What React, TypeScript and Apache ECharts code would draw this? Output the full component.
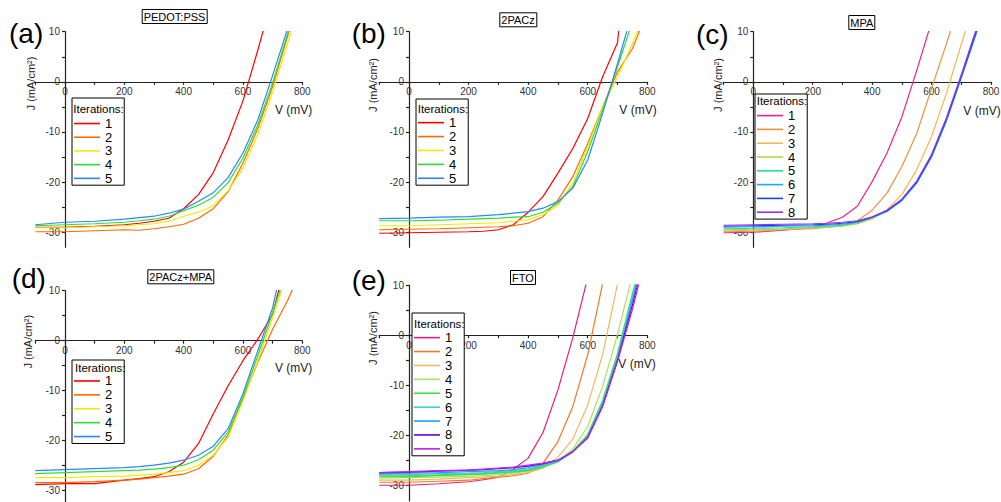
import React, { useEffect, useRef } from "react";
import * as echarts from "echarts";

// ---------- data ----------
const V = [-100, 0, 100, 200, 250, 300, 350, 400, 450, 500, 550, 600, 650, 700, 750, 800];

const xLabelValues = [0, 200, 400, 600, 800];
const xTickValues = [-100, 0, 100, 200, 300, 400, 500, 600, 700, 800];
const yLabelValues = [-30, -20, -10, 0, 10];
const yTickValues = [-30, -25, -20, -15, -10, -5, 0, 5, 10];
const X_MIN = -100;
const X_MAX = 800;
const Y_MIN = -33;
const Y_MAX = 10;

const panelTitles = ["PEDOT:PSS", "2PACz", "MPA", "2PACz+MPA", "FTO"];
const panelLetters = ["(a)", "(b)", "(c)", "(d)", "(e)"];

const jPEDOT = [
  [-29.0, -29.0, -28.8, -28.5, -28.2, -27.8, -27.2, -25.3, -22.5, -18.1, -11.6, -3.8, 6.3, 17],
  [-29.9, -29.9, -29.7, -29.5, -29.6, -29.3, -28.9, -28.4, -27.2, -25.3, -21.9, -16.2, -9.3, -0.9, 9.0, 19],
  [-29.1, -29.1, -28.9, -28.7, -28.5, -28.3, -27.8, -26.8, -26.0, -24.7, -21.7, -17.2, -10.5, -2.0, 7.6, 17],
  [-28.7, -28.5, -28.3, -28.0, -27.7, -27.4, -26.8, -25.7, -24.6, -23.0, -20.1, -15.2, -8.6, -0.2, 9.5, 19],
  [-28.5, -28.0, -27.8, -27.4, -27.1, -26.8, -26.2, -25.4, -23.8, -22.1, -19.1, -14.2, -7.6, 1.3, 10.5],
];
const j2PACz = [
  [-30.2, -30.1, -30.0, -29.9, -29.8, -29.5, -28.5, -26.0, -22.9, -18.2, -13.3, -7.3, 1.0, 7.8, 40],
  [-29.5, -29.4, -29.3, -29.1, -29.0, -28.9, -28.7, -28.2, -26.9, -23.6, -18.9, -12.3, -5.0, 2.0, 6.6, 14],
  [-28.7, -28.7, -28.5, -28.3, -28.2, -28.1, -27.8, -27.5, -26.5, -24.6, -20.2, -12.9, -5.0, 1.0, 7.6, 15],
  [-27.7, -27.7, -27.6, -27.4, -27.3, -27.2, -27.0, -26.9, -26.0, -24.2, -20.9, -13.9, -5.6, 3.0, 12],
  [-27.3, -27.2, -27.0, -26.9, -26.7, -26.5, -26.2, -25.9, -25.2, -23.9, -21.2, -15.6, -6.3, 3.6, 14],
];
const jMPA = [
  [-30.1, -30.0, -29.6, -29.1, -28.1, -27.0, -24.8, -19.9, -14.2, -7.0, 2.3, 12],
  [-29.9, -29.8, -29.5, -29.3, -29.0, -28.7, -27.7, -25.6, -22.2, -16.9, -10.3, -1.3, 7.6, 17],
  [-29.7, -29.6, -29.4, -29.1, -28.9, -28.7, -28.3, -27.4, -25.5, -22.5, -17.5, -10.9, -2.3, 7.5, 17],
  [-29.5, -29.4, -29.3, -29.1, -29.0, -28.8, -28.3, -27.2, -25.9, -23.6, -20.0, -14.7, -7.4, 1.2, 10.2, 19],
  [-29.3, -29.2, -29.1, -28.9, -28.8, -28.6, -28.1, -27.1, -25.8, -23.5, -19.9, -14.6, -7.3, 1.3, 10.3, 19],
  [-29.0, -28.9, -28.8, -28.7, -28.6, -28.4, -28.0, -27.0, -25.8, -23.7, -20.2, -15.0, -7.8, 0.8, 9.6, 19],
  [-28.8, -28.7, -28.6, -28.5, -28.4, -28.2, -27.9, -27.0, -25.7, -23.5, -20.0, -14.8, -7.5, 1.0, 9.9, 19],
  [-28.6, -28.5, -28.4, -28.3, -28.2, -28.0, -27.7, -26.9, -25.6, -23.4, -19.8, -14.5, -7.2, 1.4, 10.4, 19],
];
const j2PACzMPA = [
  [-28.8, -28.6, -28.6, -27.9, -27.6, -27.2, -26.2, -24.3, -20.6, -14.6, -9.0, -4.0, 0.3, 5.3, 17],
  [-28.4, -28.4, -28.2, -27.9, -27.7, -27.4, -27.1, -26.7, -25.6, -23.1, -18.9, -11.6, -4.3, 2.3, 8.0, 14.5],
  [-27.4, -27.4, -27.2, -27.1, -26.9, -26.7, -26.4, -26.0, -24.9, -22.9, -19.3, -12.0, -4.0, 4.7, 13.5],
  [-26.6, -26.4, -26.2, -26.0, -25.9, -25.7, -25.4, -24.9, -23.8, -21.9, -18.3, -11.3, -3.0, 5.6, 14.5],
  [-26.0, -25.8, -25.6, -25.4, -25.2, -24.9, -24.5, -23.9, -22.9, -21.1, -17.6, -10.6, -2.0, 6.6, 20],
];
const jFTO = [
  [-29.9, -29.9, -29.6, -29.2, -28.8, -28.3, -26.7, -24.5, -19.4, -10.9, -0.5, 11.5],
  [-29.3, -29.3, -29.1, -28.9, -28.6, -28.3, -28.0, -27.5, -25.5, -21.2, -14.2, -3.9, 10.3],
  [-28.9, -28.9, -28.7, -28.4, -28.3, -28.1, -27.8, -27.4, -26.5, -24.3, -20.7, -13.9, -3.9, 10.2],
  [-28.5, -28.4, -28.3, -28.1, -28.0, -27.8, -27.5, -27.1, -26.3, -25.1, -22.7, -18.2, -10.2, 0.1, 12],
  [-28.1, -28.1, -27.9, -27.7, -27.6, -27.4, -27.2, -26.9, -26.2, -25.2, -23.2, -19.9, -13.2, -3.9, 8.0, 19],
  [-27.8, -27.8, -27.6, -27.5, -27.4, -27.2, -27.0, -26.7, -26.0, -25.1, -23.2, -20.1, -13.6, -4.4, 7.6, 19],
  [-27.6, -27.5, -27.4, -27.2, -27.1, -27.0, -26.8, -26.4, -25.8, -25.0, -23.2, -20.3, -13.9, -4.8, 7.0, 18.5],
  [-27.4, -27.3, -27.1, -26.9, -26.8, -26.6, -26.4, -26.1, -25.6, -24.9, -23.2, -20.4, -14.1, -5.0, 6.0, 18],
  [-27.4, -27.2, -27.0, -26.9, -26.7, -26.5, -26.3, -25.9, -25.5, -24.9, -23.2, -20.5, -14.2, -5.2, 5.1, 17],
];

const colors5 = ["#ff0000", "#ff6a00", "#f2ea00", "#2ee02e", "#2a86ff"];
const colorsMPA = ["#f0208c", "#f09040", "#f3b850", "#a8e040", "#20e0a0", "#10b0f0", "#2040ff", "#9b30e8"];
const colorsFTO = ["#e81e7a", "#f07828", "#f0b860", "#a8e060", "#40e040", "#40d0d0", "#20a0ff", "#6000e0", "#c020f0"];

// ---------- layout ----------
const FONT = "'Liberation Sans', Arial, sans-serif";
const panels = [
  { key: "a", data: jPEDOT, colors: colors5, grid: { left: 35.3, top: 31.7, width: 267, height: 215.6 },
    legend: { left: 72, top: 98, padTop: 18.7, sp: 13.7 }, iter: [73.3, 109.3],
    title: [141.7, 9], letter: [9, 33], jLab: [31, 83.5], vLab: [275, 110] },
  { key: "b", data: j2PACz, colors: colors5, grid: { left: 379.2, top: 31.7, width: 268.1, height: 215.6 },
    legend: { left: 416, top: 99, padTop: 16.7, sp: 13.9 }, iter: [417.7, 109.3],
    title: [499.3, 12.3], letter: [351.7, 33], jLab: [373.3, 85], vLab: [619.3, 110] },
  { key: "c", data: jMPA, colors: colorsMPA, grid: { left: 723.6, top: 31.7, width: 267.4, height: 215.6 },
    legend: { left: 755, top: 94, padTop: 14.7, sp: 13.8 }, iter: [756.7, 100.7],
    title: [848.3, 15], letter: [696, 34], jLab: [718.3, 85], vLab: [963.3, 111] },
  { key: "d", data: j2PACzMPA, colors: colors5, grid: { left: 35.3, top: 290.7, width: 267, height: 215 },
    legend: { left: 72, top: 360, padTop: 14, sp: 13.9 }, iter: [75, 368.3],
    title: [147.3, 269.3], letter: [11.7, 278], jLab: [28, 341.7], vLab: [275, 368.3] },
  { key: "e", data: jFTO, colors: colorsFTO, grid: { left: 379.2, top: 285, width: 268.1, height: 215.8 },
    legend: { left: 412, top: 313, padTop: 17.7, sp: 13.9 }, iter: [414, 324],
    title: [510, 270], letter: [351.7, 280], jLab: [372.7, 338], vLab: [618.3, 364.3] },
];

function buildOption() {
  const grid: any[] = [];
  const xAxis: any[] = [];
  const yAxis: any[] = [];
  const series: any[] = [];
  const legend: any[] = [];
  const title: any[] = [];
  const graphic: any[] = [];
  const axisLineStyle = { color: "#222", width: 1.2 };
  panels.forEach((p, pi) => {
    grid.push({ ...p.grid, containLabel: false, outerBoundsMode: "none" });
    // place the axes on the zero lines with an inward offset
    const xOffset = -(p.grid.height * (0 - Y_MIN)) / (Y_MAX - Y_MIN);
    const yOffset = -(p.grid.width * (0 - X_MIN)) / (X_MAX - X_MIN);
    xAxis.push({
      type: "value", gridIndex: pi, min: X_MIN, max: X_MAX, position: "bottom", offset: xOffset,
      axisLine: { onZero: false, lineStyle: axisLineStyle },
      axisTick: { show: true, length: 3, customValues: xTickValues, lineStyle: axisLineStyle },
      axisLabel: { customValues: xLabelValues, fontSize: 10, color: "#333", margin: 5, fontFamily: FONT },
      splitLine: { show: false },
    });
    yAxis.push({
      type: "value", gridIndex: pi, min: Y_MIN, max: Y_MAX, position: "left", offset: yOffset,
      axisLine: { onZero: false, lineStyle: axisLineStyle },
      axisTick: { show: true, length: 3, customValues: yTickValues, lineStyle: axisLineStyle },
      axisLabel: { customValues: yLabelValues, fontSize: 10, color: "#333", margin: 5, fontFamily: FONT },
      splitLine: { show: false },
    });
    const names: string[] = [];
    p.data.forEach((js, si) => {
      const name = `${p.key}-${si + 1}`;
      names.push(name);
      const color = p.colors[si];
      series.push({
        type: "line", name, xAxisIndex: pi, yAxisIndex: pi,
        data: js.map((j, k) => [V[k], j]),
        symbol: "none", showSymbol: false, clip: true,
        lineStyle: { color, width: p.key === "e" && si === 4 ? 2 : 1.2 },
        itemStyle: { color },
        emphasis: { disabled: true },
      });
    });
    legend.push({
      orient: "vertical", left: p.legend.left, top: p.legend.top, data: names,
      padding: [p.legend.padTop, 12, 0, 2], borderColor: "#000", borderWidth: 1, backgroundColor: "#fff",
      icon: "rect", itemWidth: 26, itemHeight: 1.6, itemGap: 0, selectedMode: false,
      textStyle: { fontSize: 13, lineHeight: p.legend.sp, color: "#000", fontFamily: FONT },
      formatter: (n: string) => n.split("-")[1],
    });
    title.push({
      text: panelTitles[pi], left: p.title[0], top: p.title[1], padding: [2, 2],
      borderColor: "#000", borderWidth: 1,
      textStyle: { fontSize: 11, fontWeight: "normal", color: "#000", fontFamily: FONT },
    });
    graphic.push({
      type: "text", x: p.iter[0], y: p.iter[1], z: 100,
      style: { text: "Iterations:", font: `11.5px ${FONT}`, fill: "#000", verticalAlign: "middle", align: "left" },
    });
    graphic.push({
      type: "text", x: p.letter[0], y: p.letter[1], z: 100,
      style: { text: panelLetters[pi], font: `28px ${FONT}`, fill: "#000", verticalAlign: "middle", align: "left" },
    });
    graphic.push({
      type: "text", x: p.jLab[0], y: p.jLab[1], rotation: Math.PI / 2, z: 100,
      style: { text: "J (mA/cm²)", font: `11px ${FONT}`, fill: "#222", verticalAlign: "middle", align: "center" },
    });
    graphic.push({
      type: "text", x: p.vLab[0], y: p.vLab[1], z: 100,
      style: { text: "V (mV)", font: `12px ${FONT}`, fill: "#222", verticalAlign: "middle", align: "left" },
    });
  });
  return { animation: false, backgroundColor: "#fff", grid, xAxis, yAxis, series, legend, title, graphic };
}

export default function App() {
  const ref = useRef<HTMLDivElement>(null);
  useEffect(() => {
    document.body.style.margin = "0";
    if (!ref.current) return;
    const chart = echarts.init(ref.current, undefined, { renderer: "svg" });
    chart.setOption(buildOption() as any);
    return () => chart.dispose();
  }, []);
  return <div ref={ref} style={{ width: 1001, height: 502 }} />;
}
